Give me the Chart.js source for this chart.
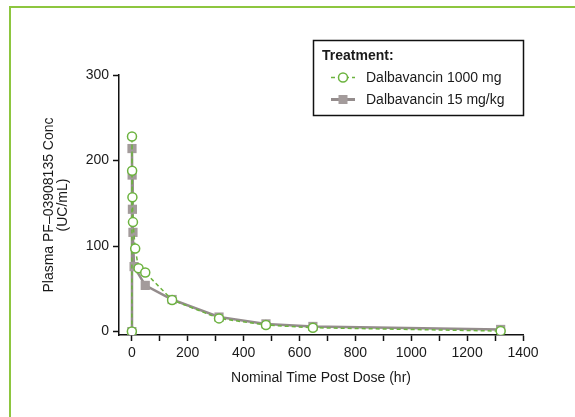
<!DOCTYPE html>
<html>
<head>
<meta charset="utf-8">
<script src="https://cdn.jsdelivr.net/npm/chart.js@4.4.1/dist/chart.umd.min.js"></script>
<style>
  html, body { margin: 0; padding: 0; background: #fff; }
  #wrap { position: relative; width: 575px; height: 417px; overflow: hidden; }
  #frame { position: absolute; left: 9px; top: 6px; width: 600px; height: 450px;
           border-left: 2px solid #8dc63f; border-top: 2px solid #8dc63f; }
  #pk { position: absolute; left: 0; top: 0; }
</style>
</head>
<body>
<div id="wrap">
  <div id="frame"></div>
  <canvas id="pk" width="575" height="417"></canvas>
</div>
<script>
// series (hours, concentration)
const seriesLabels = ['Dalbavancin 1000 mg', 'Dalbavancin 15 mg/kg'];
const time1000 = [0, 0.5, 1, 2, 4, 12, 24, 48, 144, 312, 480, 648, 1320];
const conc1000 = [0, 228, 188, 157, 128, 97, 74, 69, 37, 15.4, 7.6, 4.5, 0.6];
const time15 = [0, 0.5, 1, 2, 4, 8, 48, 144, 312, 480, 648, 1320];
const conc15 = [0, 214, 183, 143, 116, 76, 54, 37.5, 17, 9, 6, 2.5];
const xTicks = [0, 100, 200, 300, 400, 500, 600, 700, 800, 900, 1000, 1100, 1200, 1300, 1400];
const yTicks = [0, 100, 200, 300];

const Colors = {
    green: '#6cb33f',
    grey: '#948c8c',
    greyMark: '#a39b9b',
    ink: '#1a1a1a'
};
const FONT = "'Liberation Sans', Arial, Helvetica, sans-serif";

function toPoints(xs, ys) {
    return xs.map((x, i) => ({ x: x, y: ys[i] }));
}

// legend box drawn by hand, it sits half above the plot
const boxLegend = {
    id: 'boxLegend',
    afterDraw(chart) {
        const ctx = chart.ctx;
        const ds = chart.data.datasets;
        ctx.save();
        ctx.strokeStyle = '#111';
        ctx.lineWidth = 1.5;
        ctx.strokeRect(313.5, 40.5, 210, 75);

        ctx.fillStyle = Colors.ink;
        ctx.textBaseline = 'middle';
        ctx.textAlign = 'left';
        ctx.font = 'bold 14px ' + FONT;
        ctx.fillText('Treatment:', 322, 56);

        ctx.font = '14px ' + FONT;
        // entry 1 - dashed green w/ open circle
        ctx.strokeStyle = ds[0].borderColor;
        ctx.lineWidth = 1.5;
        ctx.setLineDash([4, 3]);
        ctx.beginPath();
        ctx.moveTo(331, 77.5);
        ctx.lineTo(355, 77.5);
        ctx.stroke();
        ctx.setLineDash([]);
        ctx.beginPath();
        ctx.arc(343, 77.5, 4.5, 0, Math.PI * 2);
        ctx.fillStyle = '#fff';
        ctx.fill();
        ctx.stroke();
        ctx.fillStyle = Colors.ink;
        ctx.fillText(ds[0].label, 366, 78);

        // entry 2 - solid grey w/ square
        ctx.strokeStyle = ds[1].borderColor;
        ctx.lineWidth = 3;
        ctx.beginPath();
        ctx.moveTo(331, 99.5);
        ctx.lineTo(355, 99.5);
        ctx.stroke();
        ctx.fillStyle = ds[1].pointBackgroundColor;
        ctx.fillRect(338.5, 95, 9, 9);
        ctx.fillStyle = Colors.ink;
        ctx.fillText(ds[1].label, 366, 100);
        ctx.restore();
    }
};

const ctx = document.getElementById('pk').getContext('2d');
const pkChart = new Chart(ctx, {
    type: 'line',
    data: {
        datasets: [{
            label: seriesLabels[0],
            data: toPoints(time1000, conc1000),
            borderColor: Colors.green,
            borderWidth: 1.5,
            borderDash: [4, 3],
            pointStyle: 'circle',
            pointRadius: 4.5,
            pointBorderWidth: 1.5,
            pointBorderColor: Colors.green,
            pointBackgroundColor: '#fff',
            tension: 0
        }, {
            label: seriesLabels[1],
            data: toPoints(time15, conc15),
            borderColor: Colors.grey,
            borderWidth: 2.5,
            pointStyle: 'rect',
            pointRadius: 6.5,
            pointBorderWidth: 0,
            pointBackgroundColor: Colors.greyMark,
            pointBorderColor: Colors.greyMark,
            tension: 0
        }]
    },
    options: {
        responsive: false,
        animation: false,
        devicePixelRatio: 1,
        layout: {
            padding: { left: 35, top: 75, right: 52, bottom: 0 }
        },
        plugins: {
            legend: { display: false },
            tooltip: { enabled: false }
        },
        scales: {
            x: {
                type: 'linear',
                min: -46,
                max: 1400,
                afterBuildTicks(scale) {
                    scale.ticks = xTicks.map(v => ({ value: v }));
                },
                afterFit(scale) {
                    scale.height = 82;
                },
                grid: {
                    drawOnChartArea: false,
                    drawTicks: true,
                    tickLength: 6,
                    tickColor: '#111',
                    tickWidth: 1.5
                },
                border: { color: '#111', width: 1.5 },
                ticks: {
                    autoSkip: false,
                    maxRotation: 0,
                    padding: 4,
                    color: Colors.ink,
                    font: { family: FONT, size: 14 },
                    callback: v => (v % 200 === 0 ? String(v) : '')
                },
                title: {
                    display: true,
                    text: 'Nominal Time Post Dose (hr)',
                    color: Colors.ink,
                    font: { family: FONT, size: 14 },
                    padding: { top: 0, bottom: 30 }
                }
            },
            y: {
                type: 'linear',
                min: -4,
                max: 300,
                afterBuildTicks(scale) {
                    scale.ticks = yTicks.map(v => ({ value: v }));
                },
                afterFit(scale) {
                    scale.width = 84;
                },
                grid: {
                    drawOnChartArea: false,
                    drawTicks: true,
                    tickLength: 6,
                    tickColor: '#111',
                    tickWidth: 1.5
                },
                border: { color: '#111', width: 1.5 },
                ticks: {
                    padding: 4,
                    color: Colors.ink,
                    font: { family: FONT, size: 14 }
                },
                title: {
                    display: true,
                    text: ['Plasma PF\u201303908135 Conc', '(UC/mL)'],
                    color: Colors.ink,
                    font: { family: FONT, size: 14, lineHeight: 1 },
                    padding: { top: 7, bottom: 0 }
                }
            }
        }
    },
    plugins: [boxLegend]
});
</script>
</body>
</html>
